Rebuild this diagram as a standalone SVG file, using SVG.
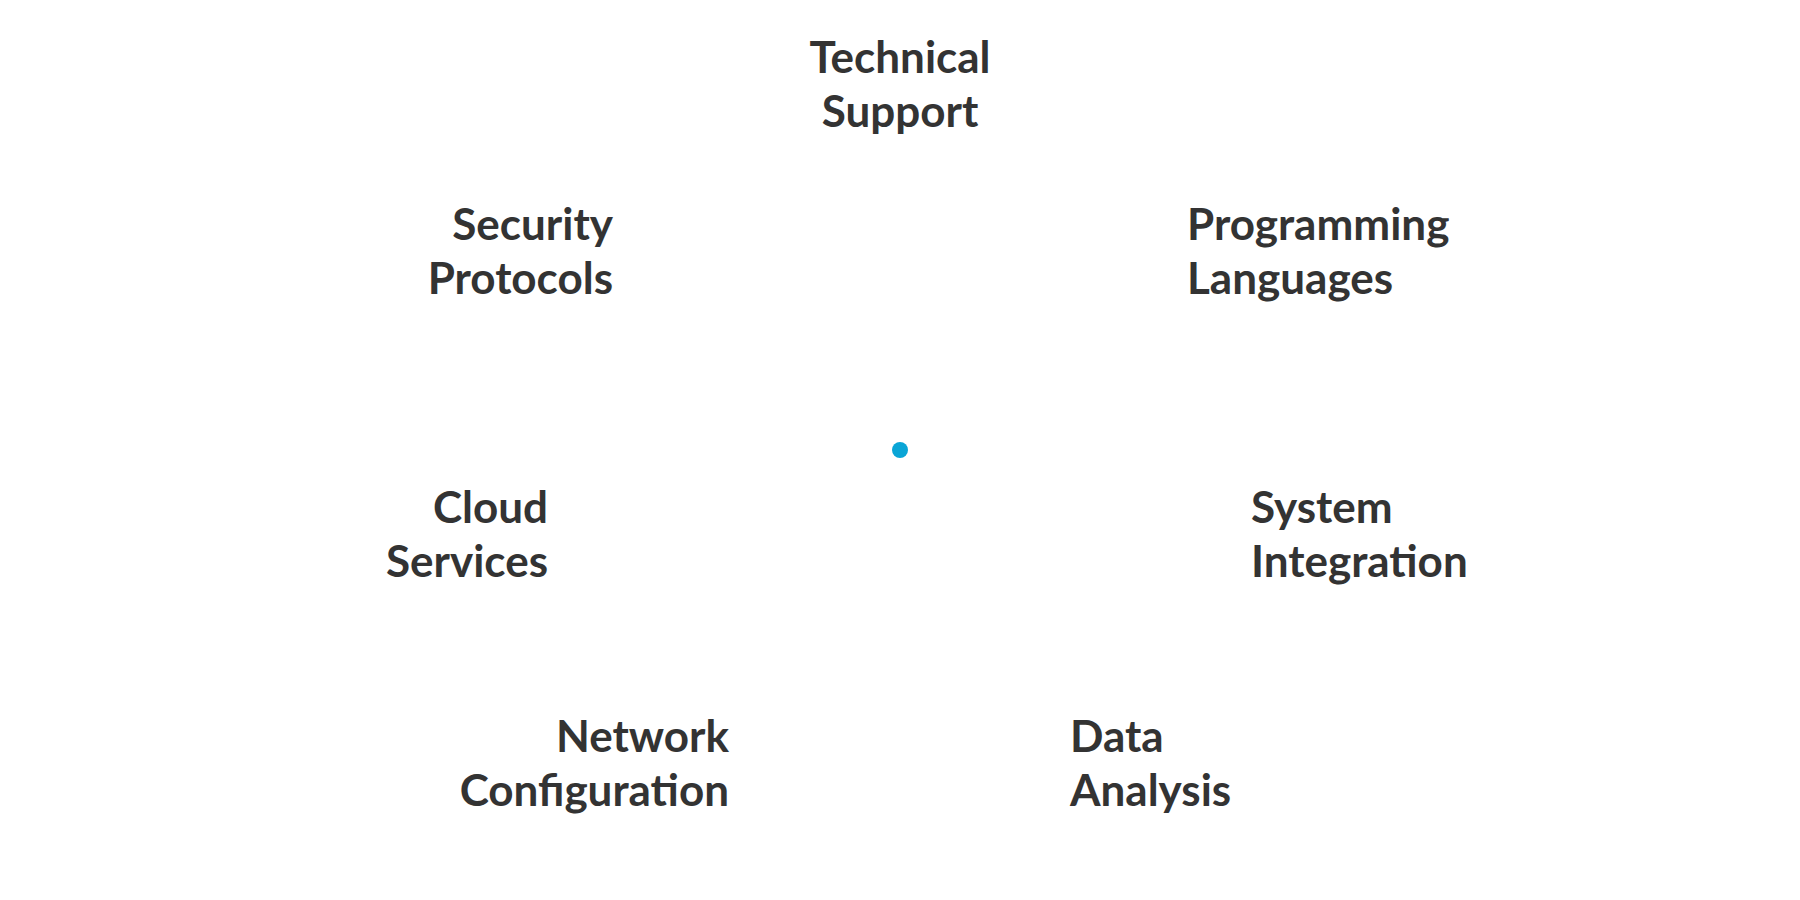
<svg xmlns="http://www.w3.org/2000/svg" width="1800" height="900" viewBox="0 0 1800 900">
<style>
text{font-family:"Lato","Open Sans",sans-serif;font-weight:700;font-size:44px;fill:#333333}
.r{text-anchor:end}.m{text-anchor:middle}
</style>
<rect width="1800" height="900" fill="#ffffff"/>
<g id="connectors"></g>
<g id="center"><circle cx="900" cy="450" r="8" fill="#0aa5d6"/></g>
<g id="technical-support"><text class="m" x="900" y="73">Technical</text><text class="m" x="900" y="127">Support</text></g>
<g id="security-protocols"><text class="r" x="613" y="240">Security</text><text class="r" x="613" y="294">Protocols</text></g>
<g id="programming-languages"><text x="1187" y="240">Programming</text><text x="1187" y="294">Languages</text></g>
<g id="cloud-services"><text class="r" x="548" y="523">Cloud</text><text class="r" x="548" y="577">Services</text></g>
<g id="system-integration"><text x="1251" y="523">System</text><text x="1251" y="577">Integration</text></g>
<g id="network-configuration"><text class="r" x="729" y="752">Network</text><text class="r" x="729" y="806">Configuration</text></g>
<g id="data-analysis"><text x="1070" y="752">Data</text><text x="1070" y="806">Analysis</text></g>
</svg>
